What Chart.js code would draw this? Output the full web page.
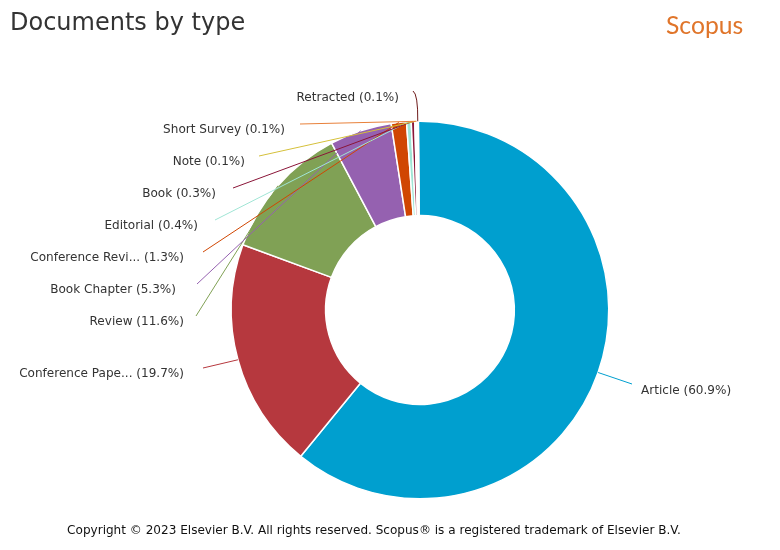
<!DOCTYPE html>
<html>
<head>
<meta charset="utf-8">
<style>html,body{margin:0;padding:0;background:#fff}canvas{display:block}</style>
<script src="https://cdn.jsdelivr.net/npm/chart.js@4"></script>
</head>
<body>
<canvas id="c" width="780" height="550"></canvas>
<script>
const categories = ["Article","Conference Pape...","Review","Book Chapter","Conference Revi...","Editorial","Book","Note","Short Survey","Retracted"];
const shares = [60.9,19.7,11.6,5.3,1.3,0.4,0.3,0.1,0.1,0.1];
const colors = ["#009fcf","#b6383e","#80a155","#9561b0","#d04602","#a0e5d5","#8a1538","#d5c03a","#e8803a","#6e1a1a"];

// label layout (text anchor x, y and connector end x, y)
const labelTextX = [641,184,184,176,184,198,216,245,285,399];
const labelTextY = [390.5,373.5,321.5,289.5,257.5,225.5,193.5,161.5,129.5,97.5];
const lineEndX = [632,203,196,197,203,215,233,259,300,413];
const lineEndY = [384,368,316,284,252,220,188,156,124,91];

const titleText = "Documents by type";
const brandText = "Scopus";
const footerText = "Copyright © 2023 Elsevier B.V. All rights reserved. Scopus® is a registered trademark of Elsevier B.V.";

const annotate = {
  id: "annotate",
  afterDatasetsDraw(chart) {
    const ctx = chart.ctx;
    const arcs = chart.getDatasetMeta(0).data;
    ctx.save();
    arcs.forEach((arc, i) => {
      const mid = (arc.startAngle + arc.endAngle) / 2;
      const px = arc.x + Math.cos(mid) * arc.outerRadius;
      const py = arc.y + Math.sin(mid) * arc.outerRadius;
      ctx.beginPath();
      ctx.moveTo(lineEndX[i], lineEndY[i]);
      if (i === arcs.length - 1) {
        ctx.quadraticCurveTo(lineEndX[i] + 5, lineEndY[i] + 3, px, py);
      } else {
        ctx.lineTo(px, py);
      }
      ctx.strokeStyle = colors[i];
      ctx.lineWidth = 1;
      ctx.stroke();

      ctx.font = '12.05px "DejaVu Sans"';
      ctx.fillStyle = "#333333";
      ctx.textBaseline = "middle";
      ctx.textAlign = i === 0 ? "left" : "right";
      ctx.fillText(categories[i] + " (" + shares[i].toFixed(1) + "%)", labelTextX[i], labelTextY[i]);
    });
    ctx.textAlign = "left";
    ctx.textBaseline = "alphabetic";
    ctx.font = '24px "DejaVu Sans"';
    ctx.fillStyle = "#333333";
    ctx.fillText(titleText, 10, 30);
    ctx.font = '24.7px "Lato"';
    ctx.fillStyle = "#e0752a";
    ctx.fillText(brandText, 666, 34);
    ctx.font = '12.05px "DejaVu Sans"';
    ctx.fillStyle = "#111111";
    ctx.textAlign = "center";
    ctx.fillText(footerText, 374, 534);
    ctx.restore();
  }
};

new Chart(document.getElementById("c"), {
  type: "doughnut",
  data: {
    labels: categories,
    datasets: [{ data: shares, backgroundColor: colors, borderColor: "#ffffff", borderWidth: 1.5 }]
  },
  options: {
    responsive: false,
    animation: false,
    rotation: -0.5,
    cutout: "50%",
    layout: { padding: { left: 230.5, right: 170.5, top: 120.5, bottom: 50.5 } },
    plugins: { legend: { display: false }, title: { display: false }, tooltip: { enabled: false } }
  },
  plugins: [annotate]
});
</script>
</body>
</html>
